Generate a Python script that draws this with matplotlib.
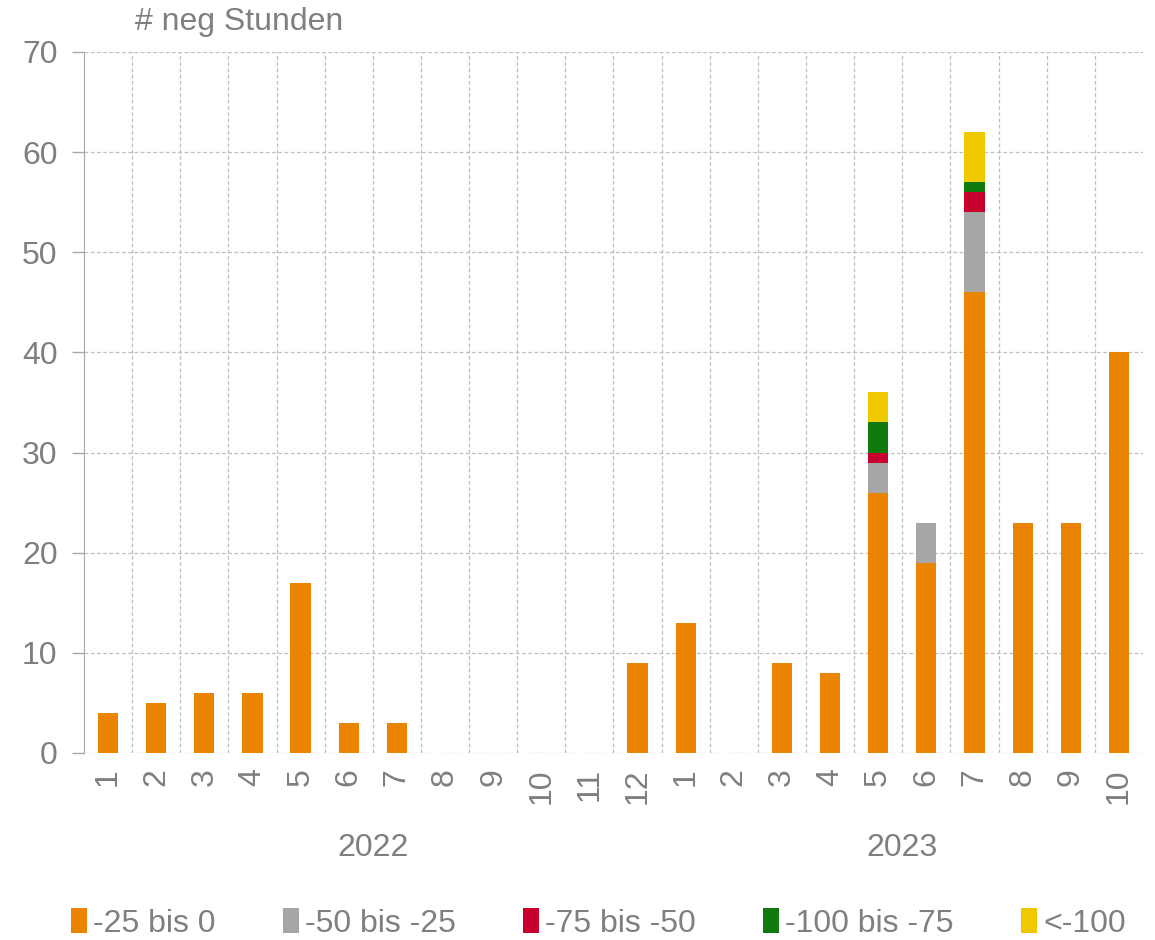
import matplotlib
matplotlib.use("Agg")
import matplotlib.pyplot as plt
import numpy as np

plt.rcParams['font.family'] = ['Liberation Sans', 'DejaVu Sans']

# months of 2022 (1..12) and 2023 (1..10)
months = ['1', '2', '3', '4', '5', '6', '7', '8', '9', '10', '11', '12',
          '1', '2', '3', '4', '5', '6', '7', '8', '9', '10']
years = ['2022', '2023']
year_centers = [5.5, 16.5]

# hours with negative prices, per price band
h_25_0 = [4, 5, 6, 6, 17, 3, 3, 0, 0, 0, 0, 9,
          13, 0, 9, 8, 26, 19, 46, 23, 23, 40]
h_50_25 = [0, 0, 0, 0, 0, 0, 0, 0, 0, 0, 0, 0,
           0, 0, 0, 0, 3, 4, 8, 0, 0, 0]
h_75_50 = [0, 0, 0, 0, 0, 0, 0, 0, 0, 0, 0, 0,
           0, 0, 0, 0, 1, 0, 2, 0, 0, 0]
h_100_75 = [0, 0, 0, 0, 0, 0, 0, 0, 0, 0, 0, 0,
            0, 0, 0, 0, 3, 0, 1, 0, 0, 0]
h_lt100 = [0, 0, 0, 0, 0, 0, 0, 0, 0, 0, 0, 0,
           0, 0, 0, 0, 3, 0, 5, 0, 0, 0]

series = [h_25_0, h_50_25, h_75_50, h_100_75, h_lt100]
labels = ['-25 bis 0', '-50 bis -25', '-75 bis -50', '-100 bis -75', '<-100']
colors = ['#EB8400', '#A6A6A6', '#C8002D', '#107A10', '#EEC900']

txt = '#7F7F7F'
grid = '#BFBFBF'

fig = plt.figure(figsize=(11.55, 9.4), dpi=100)
ax = fig.add_axes([0.0727, 0.199, 0.9169, 0.7457])

x = np.arange(len(months))
bottom = np.zeros(len(months))
for vals, lab, col in zip(series, labels, colors):
    v = np.array(vals, dtype=float)
    ax.bar(x, v, width=0.42, bottom=bottom, color=col, label=lab, zorder=3)
    bottom += v

ax.set_xlim(-0.5, len(months) - 0.5)
ax.set_ylim(0, 70)
ax.set_yticks(range(0, 71, 10))

# grid: dashed lines at category borders and every 10
ax.set_xticks(x)
ax.set_xticks(np.arange(0.5, len(months) - 0.5), minor=True)
ax.grid(True, which='minor', axis='x', color=grid, linestyle=(0, (3, 2)), linewidth=0.9)
ax.grid(True, which='major', axis='y', color=grid, linestyle=(0, (3, 2)), linewidth=0.9)
ax.set_axisbelow(True)

ax.set_xticklabels(months, rotation=90, fontsize=23, color=txt)
ax.tick_params(axis='x', which='both', length=0, pad=11)
ax.tick_params(axis='y', labelsize=23, labelcolor=txt, color='#A6A6A6', length=9, width=1, pad=10)

for s in ['top', 'right', 'bottom']:
    ax.spines[s].set_visible(False)
ax.spines['left'].set_color('#A6A6A6')

for yr, c in zip(years, year_centers):
    ax.text(c, -9.5, yr, ha='center', va='center', fontsize=23, color=txt)

fig.text(0.117, 0.977, '# neg Stunden', ha='left', va='center', fontsize=23, color=txt)

leg = fig.legend(loc='lower center', bbox_to_anchor=(0.518, -0.029), ncol=5, frameon=False,
                 fontsize=23, handlelength=0.5, handleheight=0.8, handletextpad=0.2,
                 columnspacing=2.1)
for t in leg.get_texts():
    t.set_color(txt)

fig.savefig('out.png', dpi=100)
